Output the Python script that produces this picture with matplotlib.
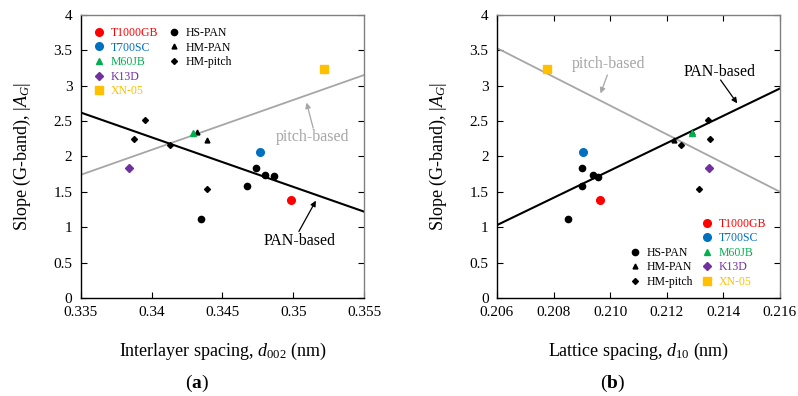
import matplotlib
matplotlib.use("Agg")
import matplotlib.pyplot as plt
from matplotlib.lines import Line2D

plt.rcParams['font.family'] = ['Liberation Serif', 'DejaVu Serif']
plt.rcParams['mathtext.fontset'] = 'custom'
plt.rcParams['mathtext.rm'] = 'Liberation Serif'
plt.rcParams['mathtext.it'] = 'Liberation Serif:italic'
plt.rcParams['mathtext.bf'] = 'Liberation Serif:bold'

"""data: (a) interlayer spacing d002 vs slope"""
hs_pan_d002 = [0.34349, 0.34671, 0.34737, 0.34800, 0.34862]
hs_pan_slope = [1.12, 1.58, 1.84, 1.74, 1.72]
hm_pan_d002 = [0.34321, 0.34389]
hm_pan_slope = [2.35, 2.23]
hm_pitch_d002 = [0.33956, 0.33879, 0.34128, 0.34391]
hm_pitch_slope = [2.52, 2.25, 2.16, 1.54]

"""data: (b) lattice spacing d10 vs slope"""
hs_pan_d10 = [0.20850, 0.20900, 0.20900, 0.20941, 0.20958]
hs_pan_slope_b = [1.12, 1.58, 1.84, 1.74, 1.71]
hm_pan_d10 = [0.21224, 0.21290]
hm_pan_slope_b = [2.23, 2.35]
hm_pitch_d10 = [0.21347, 0.21353, 0.21251, 0.21313]
hm_pitch_slope_b = [2.52, 2.25, 2.16, 1.54]

"""named fibres: T1000GB, T700SC, M60JB, K13D, XN-05"""
fibre_names = ["T1000GB", "T700SC", "M60JB", "K13D", "XN-05"]
fibre_d002 = [0.34986, 0.34763, 0.34290, 0.33839, 0.35215]
fibre_d10 = [0.20965, 0.20903, 0.21290, 0.21350, 0.20776]
fibre_slope = [1.39, 2.06, 2.33, 1.84, 3.24]
fibre_colors = ["#FF0000", "#0070C0", "#00B050", "#7030A0", "#FFC000"]
fibre_markers = ["o", "o", "^", "D", "s"]
fibre_sizes = [5.5, 5.5, 5, 4, 5.5]

"""trend lines (end points)"""
pan_line_a_x = [0.335, 0.355]
pan_line_a_y = [2.62, 1.22]
pitch_line_a_x = [0.335, 0.355]
pitch_line_a_y = [1.74, 3.15]
pan_line_b_x = [0.206, 0.216]
pan_line_b_y = [1.03, 2.96]
pitch_line_b_x = [0.206, 0.216]
pitch_line_b_y = [3.53, 1.50]

gray = "#A6A6A6"


def style_axes(ax, top_ticks):
    ax.set_ylim(0, 4)
    ax.set_yticks([0, 0.5, 1, 1.5, 2, 2.5, 3, 3.5, 4])
    ax.set_yticklabels(["0", "0.5", "1", "1.5", "2", "2.5", "3", "3.5", "4"])
    ax.tick_params(direction="in", length=4, width=0.8, labelsize=11, pad=6,
                   left=True, right=True, bottom=True, top=top_ticks)
    ax.spines["left"].set_color("black")
    ax.spines["bottom"].set_color("black")
    ax.spines["top"].set_color("#808080")
    ax.spines["right"].set_color("#808080")
    for s in ax.spines.values():
        s.set_linewidth(1.0)
    ax.set_ylabel("Slope (G-band), |$A_G$|", fontsize=13)
    ax.yaxis.set_label_coords(-0.17, 0.5)


def draw_groups(ax, hs_x, hs_y, hm_x, hm_y, pt_x, pt_y, fx):
    ax.plot(hs_x, hs_y, "o", color="black", ms=4.5, ls="none")
    ax.plot(hm_x, hm_y, "^", color="black", ms=3.5, ls="none")
    ax.plot(pt_x, pt_y, "D", color="black", ms=3, ls="none")
    for i in range(len(fibre_names)):
        ax.plot(fx[i], fibre_slope[i], fibre_markers[i], color=fibre_colors[i],
                ms=fibre_sizes[i], ls="none", zorder=4)


def add_legends(ax, col_pos, blk_pos, loc):
    col_handles = [Line2D([], [], marker=fibre_markers[i], color=fibre_colors[i],
                          ls="none", ms=fibre_sizes[i]) for i in range(5)]
    blk_handles = [Line2D([], [], marker="o", color="black", ls="none", ms=4.5),
                   Line2D([], [], marker="^", color="black", ls="none", ms=3.5),
                   Line2D([], [], marker="D", color="black", ls="none", ms=3)]
    kw = dict(loc=loc, frameon=False, fontsize=8.5, handlelength=1,
              handletextpad=0.5, labelspacing=0.22, borderpad=0, borderaxespad=0)
    leg1 = ax.legend(col_handles, fibre_names, bbox_to_anchor=col_pos, **kw)
    for t, c in zip(leg1.get_texts(), fibre_colors):
        t.set_color(c)
    ax.add_artist(leg1)
    ax.legend(blk_handles, ["HS-PAN", "HM-PAN", "HM-pitch"], bbox_to_anchor=blk_pos, **kw)


def label_arrow(ax, text, color, text_xy, tail_xy, head_xy):
    ax.text(text_xy[0], text_xy[1], text, color=color, fontsize=11.5, ha="center", va="center")
    ax.annotate("", xy=head_xy, xytext=tail_xy,
                arrowprops=dict(arrowstyle="-|>", color=color, lw=0.9,
                                mutation_scale=8, shrinkA=0, shrinkB=0))


fig = plt.figure(figsize=(7.98, 3.96), dpi=100)
ax1 = fig.add_axes([0.1012, 0.2475, 0.355, 0.715])
ax2 = fig.add_axes([0.6228, 0.2475, 0.3546, 0.715])

"""plot (a)"""
ax1.plot(pitch_line_a_x, pitch_line_a_y, color=gray, lw=1.3)
ax1.plot(pan_line_a_x, pan_line_a_y, color="black", lw=1.5)
draw_groups(ax1, hs_pan_d002, hs_pan_slope, hm_pan_d002, hm_pan_slope,
            hm_pitch_d002, hm_pitch_slope, fibre_d002)
ax1.set_xlim(0.335, 0.355)
ax1.set_xticks([0.335, 0.34, 0.345, 0.35, 0.355])
ax1.set_xticklabels(["0.335", "0.34", "0.345", "0.35", "0.355"])
style_axes(ax1, False)
ax1.set_xlabel("Interlayer spacing, $d_{002}$ (nm)", fontsize=13)
ax1.xaxis.set_label_coords(0.5, -0.152)
ax1.xaxis.label.set_va("top")
label_arrow(ax1, "pitch-based", gray, (0.35137, 2.27), (0.35141, 2.40), (0.35094, 2.76))
label_arrow(ax1, "PAN-based", "black", (0.35043, 0.81), (0.3504, 0.94), (0.3516, 1.375))
add_legends(ax1, (0.044, 0.957), (0.3085, 0.957), "upper left")

"""plot (b)"""
ax2.plot(pitch_line_b_x, pitch_line_b_y, color=gray, lw=1.3)
ax2.plot(pan_line_b_x, pan_line_b_y, color="black", lw=1.5)
draw_groups(ax2, hs_pan_d10, hs_pan_slope_b, hm_pan_d10, hm_pan_slope_b,
            hm_pitch_d10, hm_pitch_slope_b, fibre_d10)
ax2.set_xlim(0.206, 0.216)
ax2.set_xticks([0.206, 0.208, 0.210, 0.212, 0.214, 0.216])
ax2.set_xticklabels(["0.206", "0.208", "0.210", "0.212", "0.214", "0.216"])
style_axes(ax2, True)
ax2.set_xlabel("Lattice spacing, $d_{10}$ (nm)", fontsize=13)
ax2.xaxis.set_label_coords(0.5, -0.152)
ax2.xaxis.label.set_va("top")
label_arrow(ax2, "pitch-based", gray, (0.20993, 3.30), (0.2099, 3.15), (0.20966, 2.89))
label_arrow(ax2, "PAN-based", "black", (0.21386, 3.19), (0.2139, 3.08), (0.21449, 2.75))
add_legends(ax2, (0.721, 0.035), (0.4668, 0.035), "lower left")

fig.text(197 / 798, 1 - 383 / 396, "($\\mathbf{a}$)", ha="center", va="center", fontsize=14)
fig.text(613 / 798, 1 - 383 / 396, "($\\mathbf{b}$)", ha="center", va="center", fontsize=14)

fig.savefig("out.png", dpi=100)
